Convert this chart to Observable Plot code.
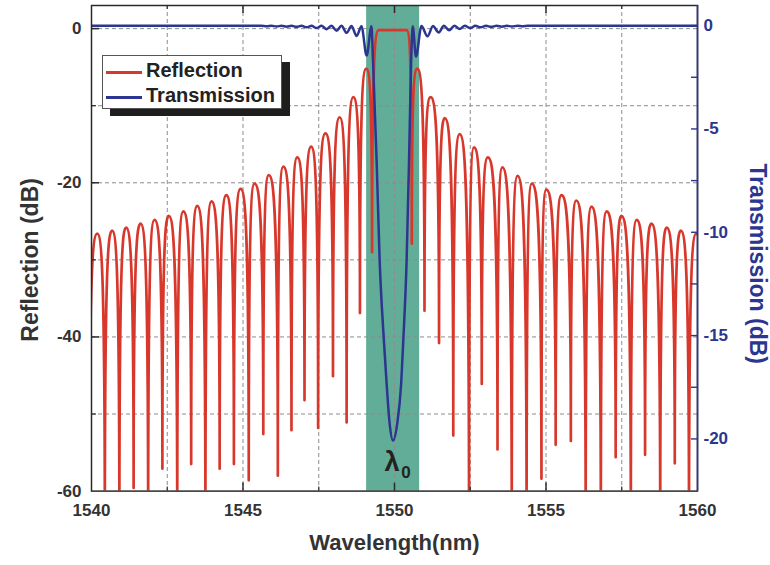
<!DOCTYPE html>
<html>
<head>
<meta charset="utf-8">
<script src="https://cdn.jsdelivr.net/npm/d3@7"></script>
<script src="https://cdn.jsdelivr.net/npm/@observablehq/plot@0.6"></script>
<style>
  body { margin: 0; background: #fff; }
  #wrap { position: relative; width: 770px; height: 565px; font-family: "Liberation Sans", Arial, sans-serif; }
  .legend { position: absolute; left: 102px; top: 55px; width: 178px; height: 52px; border: 1.5px solid #555;
            background: #fff; box-shadow: 8px 7px 0 #1e1e1e; }
  .legend .sw { position: absolute; left: 3px; width: 36px; height: 2.5px; }
  .legend .lab { position: absolute; left: 43px; font-size: 20px; line-height: 20px; font-weight: bold; color: #222; white-space: nowrap; }
</style>
</head>
<body>
<div id="wrap"></div>
<script>
// ---- data ----
// Reflection spectrum: alternating nulls and lobe peaks (wavelength nm, dB)
const reflWl = [
  1539.92, 1540.19, 1540.44, 1540.68, 1540.92, 1541.14, 1541.39, 1541.62, 1541.87, 1542.08,
  1542.34, 1542.55, 1542.83, 1543.03, 1543.29, 1543.49, 1543.76, 1543.96, 1544.23, 1544.45,
  1544.70, 1544.92, 1545.19, 1545.38, 1545.67, 1545.85, 1546.15, 1546.33, 1546.60, 1546.79,
  1547.03, 1547.25, 1547.48, 1547.72, 1547.97, 1548.19, 1548.42, 1548.64, 1548.86, 1549.07,
  1549.26, 1549.48, 1550.40, 1550.57,
  1550.75, 1550.99, 1551.19, 1551.47, 1551.66, 1551.94, 1552.15, 1552.46, 1552.62, 1552.88,
  1553.08, 1553.40, 1553.56, 1553.87, 1554.06, 1554.36, 1554.53, 1554.85, 1555.01, 1555.32,
  1555.51, 1555.82, 1556.00, 1556.31, 1556.50, 1556.81, 1557.00, 1557.30, 1557.49, 1557.80,
  1557.99, 1558.27, 1558.48, 1558.77, 1558.98, 1559.25, 1559.45, 1559.72, 1559.96, 1560.20
];
const reflDb = [
  -66, -26.6, -66, -26.2, -66, -25.8, -59.6, -25.3, -66, -24.8,
  -57.1, -24.3, -66, -23.7, -56.5, -23.0, -66, -22.4, -57.1, -21.6,
  -56.5, -20.8, -58.6, -20.1, -52.6, -19.0, -58.0, -17.9, -52.1, -16.7,
  -48.2, -15.3, -51.8, -13.6, -45.1, -11.5, -51.1, -8.9, -36.9, -5.2,
  -29.0, -0.2, -0.2, -27.9,
  -5.2, -36.6, -8.9, -40.8, -11.6, -52.8, -13.7, -66, -15.4, -46.1,
  -16.7, -54.6, -18.0, -66, -19.1, -66, -20.1, -58.4, -20.9, -54.0,
  -21.6, -53.5, -22.3, -66, -23.1, -66, -23.7, -55.6, -24.3, -66,
  -24.8, -55.3, -25.3, -66, -25.8, -56.4, -26.2, -66, -26.6, -66
];
// Transmission spectrum (wavelength nm, dB on right axis)
const transWl = [
  1540.00, 1545.60, 1545.78, 1545.94, 1546.11, 1546.27, 1546.44, 1546.60, 1546.77, 1546.93,
  1547.10, 1547.26, 1547.43, 1547.59, 1547.76, 1547.92, 1548.09, 1548.25, 1548.42, 1548.58,
  1548.75, 1548.91, 1549.08, 1549.24, 1549.29, 1549.41, 1549.51, 1549.65, 1549.74, 1549.84,
  1549.95, 1550.09, 1550.22, 1550.29, 1550.40, 1550.48, 1550.55, 1550.60, 1550.71, 1550.89,
  1551.09, 1551.27, 1551.46, 1551.63, 1551.80, 1551.98, 1552.15, 1552.32, 1552.50, 1552.67,
  1552.84, 1553.02, 1553.19, 1553.37, 1553.54, 1553.71, 1553.88, 1554.06, 1554.23, 1554.40,
  1560.00
];
const transDb = [
  -0.01, -0.01, -0.03, -0.01, -0.04, -0.01, -0.05, -0.01, -0.06, -0.01,
  -0.08, -0.01, -0.12, -0.01, -0.17, -0.01, -0.25, -0.01, -0.35, -0.02,
  -0.50, -0.03, -1.45, -0.03, -1.69, -6.53, -11.37, -15.24, -17.32, -19.26,
  -20.08, -19.26, -17.32, -15.24, -11.37, -6.53, -1.69, -0.03, -1.50, -0.02,
  -0.52, -0.02, -0.33, -0.01, -0.23, -0.01, -0.16, -0.01, -0.12, -0.01,
  -0.08, -0.01, -0.06, -0.01, -0.05, -0.01, -0.04, -0.01, -0.03, -0.01,
  -0.01
];
const bandStart = 1549.08, bandEnd = 1550.83;   // shaded stop band
const lambda0 = 1549.95;                         // Bragg wavelength label position
const lambdaMinDb = -20.08;

// axis tick values / labels
const xLabelTicks = [1540, 1545, 1550, 1555, 1560];
const xMajorTicks = [1545, 1550, 1555];
const xMinorTicks = [1542.5, 1547.5, 1552.5, 1557.5];
const xGridTicks = [1542.5, 1545, 1547.5, 1550, 1552.5, 1555, 1557.5];
const yLabelTicks = [0, -20, -40, -60];
const yMajorTicks = [0, -20, -40];
const yMinorTicks = [-10, -30, -50];
const yGridTicks = [0, -10, -20, -30, -40, -50];
const tLabelTicks = [0, -5, -10, -15, -20];
const tAllTicks = [0, -2.5, -5, -7.5, -10, -12.5, -15, -17.5, -20];

// ---- layout / styles ----
const RED = "#d8382c", BLUE = "#2c3590", INK = "#2a2a2a";
const yDomain = [-60, 3];
// right (transmission) axis aligned to the left (reflection) axis
const tToR = d3.scaleLinear().domain([0, -20]).range([0.39, -53.23]);

const refl = reflWl.map((w, i) => ({w, db: reflDb[i]}));
const trans = transWl.map((w, i) => ({w, db: transDb[i]}));

// curve: vertical tangent at nulls, horizontal tangent at lobe tops
function lobeCurve(context) {
  let px, py, n = 0;
  return {
    areaStart() {}, areaEnd() {},
    lineStart() { n = 0; },
    lineEnd() {},
    point(x, y) {
      x = +x; y = +y;
      if (n === 0) context.moveTo(x, y);
      else {
        const dx = x - px, dy = y - py;
        if (dy < 0) context.bezierCurveTo(px, py + dy * 0.9, x - dx * 0.55, y, x, y);
        else if (dy > 0) context.bezierCurveTo(px + dx * 0.55, py, x, py + dy * 0.1, x, y);
        else context.lineTo(x, y);
      }
      px = x; py = y; n++;
    }
  };
}

const plotH = 565 - 5 - 74.4;
const plotW = 770 - 91 - 73;
const gridStyle = {stroke: "#8c8c8c", strokeWidth: 1, strokeDasharray: "4,3"};

const chart = Plot.plot({
  width: 770, height: 565,
  marginLeft: 91, marginRight: 73, marginTop: 5, marginBottom: 74.4,
  x: {domain: [1540, 1560]},
  y: {domain: yDomain},
  style: {fontFamily: '"Liberation Sans", Arial, sans-serif', fontSize: "17px", fontWeight: "bold", color: "#333", background: "transparent"},
  marks: [
    Plot.rect([{a: bandStart, b: bandEnd}], {x1: "a", x2: "b", y1: yDomain[0], y2: yDomain[1], fill: "#62ad97"}),
    Plot.ruleX(xGridTicks, gridStyle),
    Plot.ruleY(yGridTicks, gridStyle),
    Plot.line(refl, {x: "w", y: "db", stroke: RED, strokeWidth: 2.7, curve: lobeCurve, clip: true}),
    Plot.line(trans, {x: "w", y: d => tToR(d.db), stroke: BLUE, strokeWidth: 2.5, curve: "monotone-x", clip: true}),
    Plot.frame({stroke: INK, strokeWidth: 1.5}),
    Plot.ruleX([1560], {stroke: BLUE, strokeWidth: 1.6}),
    // inward ticks
    Plot.tickX(xMajorTicks, {stroke: INK, strokeWidth: 1.5, insetTop: plotH - 8}),
    Plot.tickX(xMinorTicks, {stroke: INK, strokeWidth: 1.2, insetTop: plotH - 4}),
    Plot.tickX(xMajorTicks, {stroke: INK, strokeWidth: 1.5, insetBottom: plotH - 8}),
    Plot.tickX(xMinorTicks, {stroke: INK, strokeWidth: 1.2, insetBottom: plotH - 4}),
    Plot.tickY(yMajorTicks, {stroke: INK, strokeWidth: 1.5, insetRight: plotW - 8}),
    Plot.tickY(yMinorTicks, {stroke: INK, strokeWidth: 1.2, insetRight: plotW - 5}),
    Plot.tickY(tAllTicks, {y: d => tToR(d), stroke: BLUE, strokeWidth: 1.4, insetLeft: plotW - 6}),
    // tick labels
    Plot.axisX(xLabelTicks, {anchor: "bottom", tickSize: 0, tickPadding: 13, tickFormat: d => String(d), label: null, fontSize: 17}),
    Plot.axisY(yLabelTicks, {anchor: "left", tickSize: 0, tickPadding: 10, tickFormat: d => String(d), label: null, fontSize: 17}),
    Plot.text(tLabelTicks, {y: d => tToR(d), frameAnchor: "right", dx: 6, textAnchor: "start", fill: BLUE, text: d => String(d), fontSize: 17, fontWeight: "bold"}),
    // axis titles
    Plot.text(["Wavelength(nm)"], {frameAnchor: "bottom", dy: 59, textAnchor: "middle", text: d => d, fontSize: 22, fontWeight: "bold", fill: "#333"}),
    Plot.text(["Reflection (dB)"], {frameAnchor: "left", y: () => -30, dx: -61, rotate: -90, textAnchor: "middle", text: d => d, fontSize: 23, fontWeight: "bold", fill: "#333"}),
    Plot.text(["Transmission (dB)"], {frameAnchor: "right", y: () => -30.5, dx: 60, rotate: 90, textAnchor: "middle", text: d => d, fontSize: 23, fontWeight: "bold", fill: BLUE}),
    // lambda_0 label
    Plot.text([lambda0], {x: d => d, y: () => tToR(lambdaMinDb), dx: -1, dy: 22, text: () => "λ", fontSize: 27, fontWeight: "bold", fill: "#222"}),
    Plot.text([lambda0], {x: d => d, y: () => tToR(lambdaMinDb), dx: 13, dy: 32, text: () => "0", fontSize: 17, fontWeight: "bold", fill: "#222"})
  ]
});

const wrap = document.getElementById("wrap");
wrap.appendChild(chart);
const lg = document.createElement("div");
lg.className = "legend";
lg.innerHTML =
  `<div class="sw" style="top:15px;background:${RED}"></div><div class="lab" style="top:4px">Reflection</div>` +
  `<div class="sw" style="top:40px;background:${BLUE}"></div><div class="lab" style="top:29px">Transmission</div>`;
wrap.appendChild(lg);
</script>
</body>
</html>
